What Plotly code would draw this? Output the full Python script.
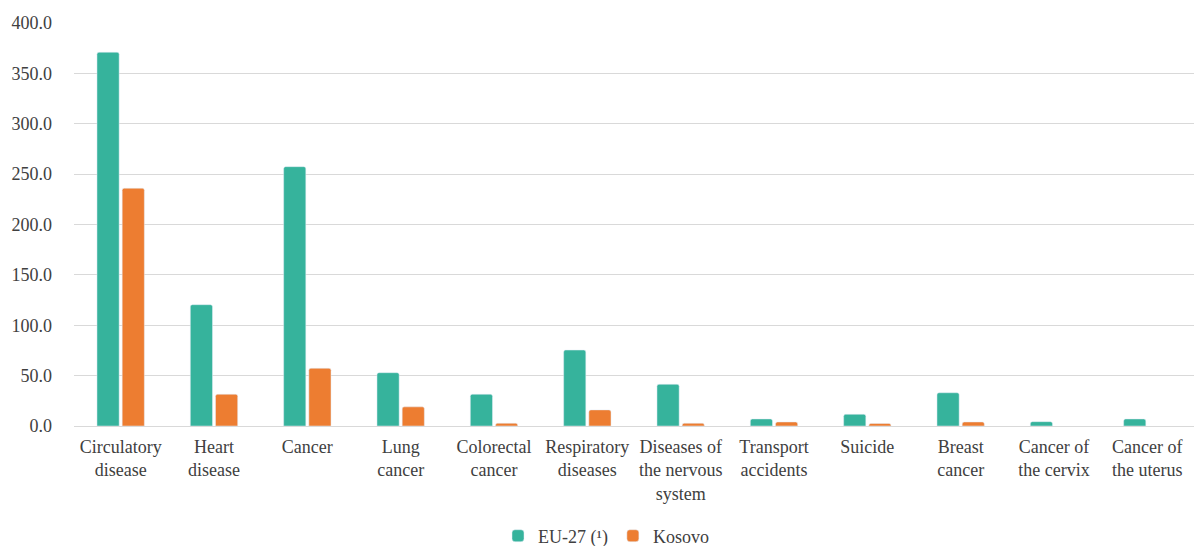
import plotly.graph_objects as go

categories = ["Circulatory<br>disease", "Heart<br>disease", "Cancer", "Lung<br>cancer",
              "Colorectal<br>cancer", "Respiratory<br>diseases", "Diseases of<br>the nervous<br>system",
              "Transport<br>accidents", "Suicide", "Breast<br>cancer", "Cancer of<br>the cervix",
              "Cancer of<br>the uterus"]
eu27 = [371.0, 120.4, 257.4, 52.9, 31.5, 75.4, 41.4, 7.0, 11.6, 33.0, 4.3, 7.0]
kosovo = [236.0, 31.5, 57.3, 19.0, 2.7, 16.0, 2.7, 4.0, 2.5, 4.0, None, None]
yticks = [0, 50, 100, 150, 200, 250, 300, 350, 400]

fig = go.Figure()
fig.add_trace(go.Bar(x=categories, y=eu27, name="EU-27 (¹)", marker_color="#36b39c"))
fig.add_trace(go.Bar(x=categories, y=kosovo, name="Kosovo", marker_color="#ed7d31"))

FAM = "Times New Roman, Liberation Serif, DejaVu Serif, serif"
font = dict(family=FAM, size=18, color="#404040")
fig.update_layout(
    width=1196, height=546,
    margin=dict(l=74, r=2, t=23, b=120, autoexpand=False),
    plot_bgcolor="white", paper_bgcolor="white",
    barmode="group", bargap=0.46, bargroupgap=0.12,
    barcornerradius=2,
    font=font,
    showlegend=True,
    legend=dict(orientation="h", x=0.475, xanchor="center", y=-0.273, yanchor="middle",
                font=dict(family=FAM, size=18, color="#404040"),
                itemwidth=30, tracegroupgap=0),
    xaxis=dict(showline=False, ticks="", tickfont=font, showgrid=False, automargin=False,
               ticklabelstandoff=8),
    yaxis=dict(range=[0, 400], tickvals=yticks, tickformat=".1f", showgrid=True, automargin=False,
               gridcolor="#d9d9d9", gridwidth=1, zeroline=True, zerolinecolor="#d9d9d9",
               zerolinewidth=1, tickfont=font, ticklabelstandoff=21),
)
fig.write_html("out.html")
